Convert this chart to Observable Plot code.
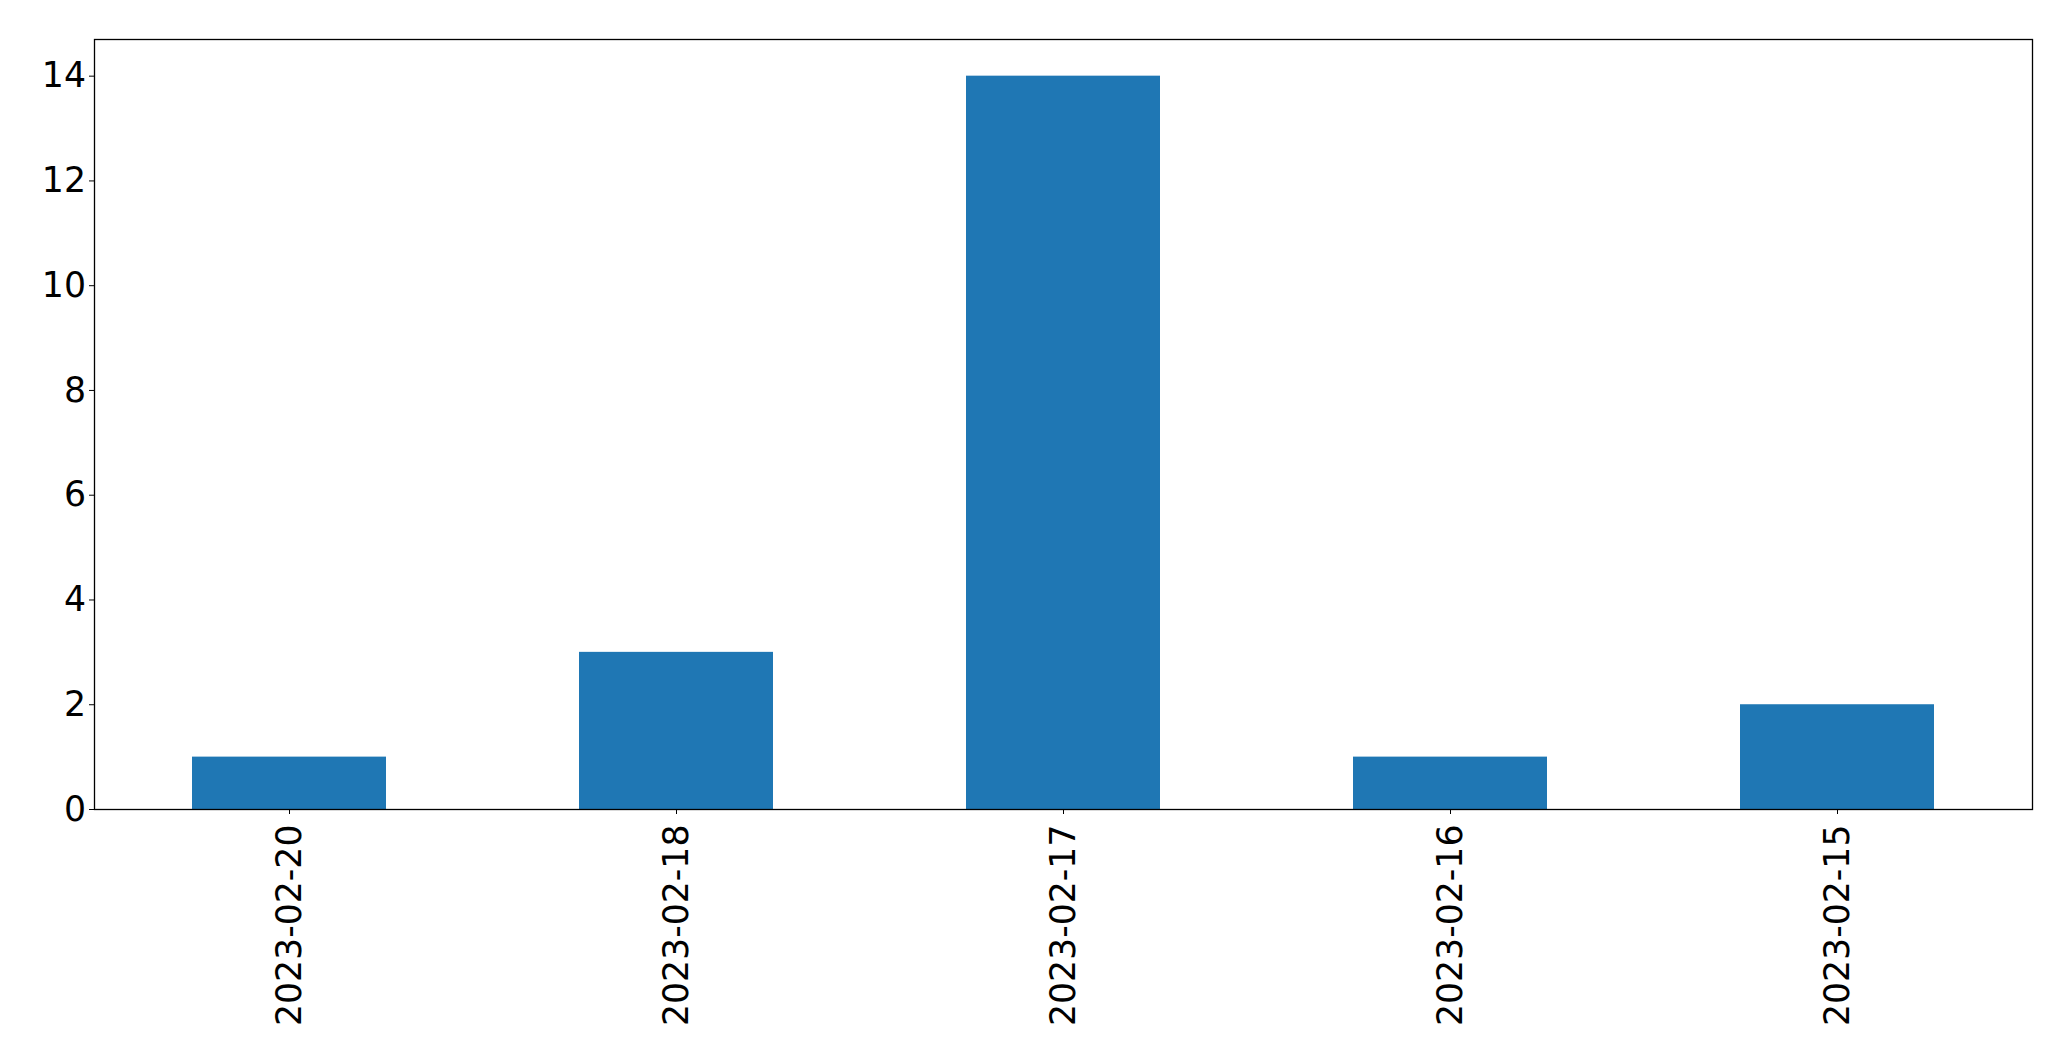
<!DOCTYPE html>
<html>
<head>
<meta charset="utf-8">
<script src="https://cdn.jsdelivr.net/npm/d3@7"></script>
<script src="https://cdn.jsdelivr.net/npm/@observablehq/plot@0.6"></script>
<style>
  html, body { margin: 0; padding: 0; background: #fff; }
  #chart svg { display: block; }
</style>
</head>
<body>
<div id="chart"></div>
<script>
const dates = ["2023-02-20", "2023-02-18", "2023-02-17", "2023-02-16", "2023-02-15"];
const counts = [1, 3, 14, 1, 2];
const yTicks = [0, 2, 4, 6, 8, 10, 12, 14];

const data = dates.map((d, i) => ({date: d, count: counts[i]}));

const chart = Plot.plot({
  width: 2071,
  height: 1061,
  marginLeft: 94,
  marginRight: 39,
  marginTop: 39,
  marginBottom: 252,
  style: {fontFamily: "DejaVu Sans", fontSize: "34.7px", color: "black", background: "white"},
  x: {domain: dates, paddingInner: 0.5, paddingOuter: 0.25, label: null},
  y: {domain: [0, 14.7], label: null},
  marks: [
    Plot.barY(data, {x: "date", y: "count", fill: "#1f77b4"}),
    Plot.axisY({ticks: yTicks, tickSize: 5, tickPadding: 3.5, label: null, fontSize: 34.7}),
    Plot.axisX({tickSize: 5, tickPadding: 10, tickRotate: -90, label: null, fontSize: 34.7}),
    Plot.frame({stroke: "black", strokeWidth: 1.3})
  ]
});
document.getElementById("chart").appendChild(chart);
</script>
</body>
</html>
